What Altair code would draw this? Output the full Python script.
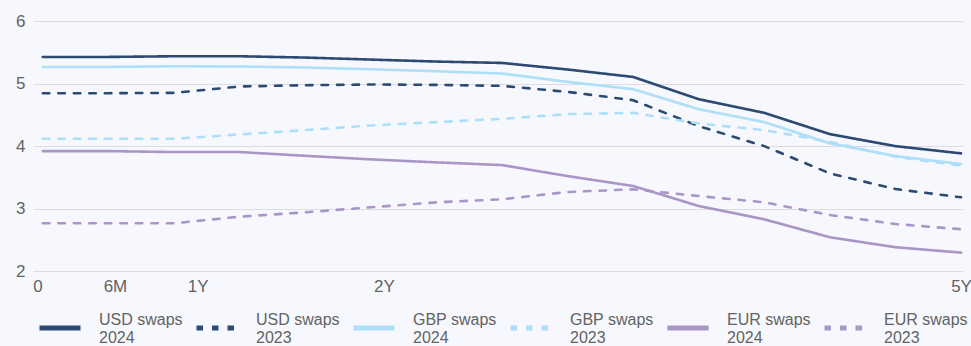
import altair as alt
import pandas as pd

# Swap curves, sampled at 15 equally spaced tenor points (0 .. 5Y)
usd_2024 = [5.425, 5.425, 5.436, 5.436, 5.415, 5.383, 5.351, 5.329, 5.224, 5.105, 4.749, 4.530, 4.190, 3.998, 3.882]
usd_2023 = [4.845, 4.845, 4.850, 4.952, 4.973, 4.984, 4.978, 4.962, 4.866, 4.733, 4.318, 3.998, 3.562, 3.311, 3.179]
gbp_2024 = [5.265, 5.265, 5.276, 5.272, 5.256, 5.228, 5.196, 5.160, 5.026, 4.909, 4.589, 4.382, 4.042, 3.839, 3.711]
gbp_2023 = [4.115, 4.115, 4.115, 4.185, 4.254, 4.329, 4.382, 4.435, 4.510, 4.530, 4.361, 4.254, 4.067, 3.827, 3.684]
eur_2024 = [3.918, 3.918, 3.903, 3.903, 3.843, 3.786, 3.738, 3.695, 3.519, 3.360, 3.040, 2.827, 2.540, 2.380, 2.294]
eur_2023 = [2.764, 2.764, 2.764, 2.869, 2.939, 3.019, 3.099, 3.147, 3.264, 3.307, 3.200, 3.099, 2.896, 2.752, 2.668]

series_names = [
    "USD swaps|2024", "USD swaps|2023",
    "GBP swaps|2024", "GBP swaps|2023",
    "EUR swaps|2024", "EUR swaps|2023",
]
series_values = [usd_2024, usd_2023, gbp_2024, gbp_2023, eur_2024, eur_2023]

tick_labels = ["0", "6M", "1Y", "2Y", "5Y"]
tick_positions = [-0.08, 1.10, 2.36, 5.20, 14]

navy = "#2D4A72"
light_blue = "#ADDFF8"
purple = "#A996C6"
colors = [navy, navy, light_blue, light_blue, purple, purple]
solid = [1, 0]
dashed = [6.5, 9]
dashes = [solid, dashed, solid, dashed, solid, dashed]

rows = []
for name, vals in zip(series_names, series_values):
    for i, v in enumerate(vals):
        rows.append({"point": i, "rate": v, "series": name})
df = pd.DataFrame(rows)

# map each tick value to its tenor label
label_expr = " : ".join(
    f"abs(datum.value - ({p})) < 0.001 ? '{t}'" for p, t in zip(tick_positions, tick_labels)
) + " : ''"

font = "Liberation Sans"
text_color = "#636363"

chart = (
    alt.Chart(df)
    .mark_line(strokeWidth=2.6, strokeCap="round", strokeJoin="round")
    .encode(
        x=alt.X(
            "point:Q",
            scale=alt.Scale(domain=[-0.15, 14.03], nice=False, zero=False),
            axis=alt.Axis(
                values=tick_positions,
                labelExpr=label_expr,
                title=None,
                grid=False,
                domain=False,
                ticks=False,
                labelFlush=False,
                labelPadding=7,
                labelFontSize=17,
                labelFont=font,
                labelColor=text_color,
                labelBound=False,
                labelOverlap=False,
            ),
        ),
        y=alt.Y(
            "rate:Q",
            scale=alt.Scale(domain=[2, 6], nice=False, zero=False),
            axis=alt.Axis(
                values=[2, 3, 4, 5, 6],
                title=None,
                domain=False,
                ticks=False,
                labelPadding=8,
                labelFontSize=17,
                labelFont=font,
                labelColor=text_color,
                gridColor="#DCDDE2",
                gridWidth=1.2,
            ),
        ),
        color=alt.Color(
            "series:N",
            scale=alt.Scale(domain=series_names, range=colors),
            sort=series_names,
            legend=alt.Legend(
                title=None,
                orient="none",
                direction="horizontal",
                legendX=4,
                legendY=284,
                columns=6,
                symbolType="stroke",
                symbolSize=1681,
                symbolStrokeWidth=5,
                labelExpr="split(datum.label, '|')",
                labelBaseline="bottom",
                labelFontSize=16,
                labelFont=font,
                labelColor=text_color,
                labelOffset=16,
                labelLimit=200,
                columnPadding=3,
            ),
        ),
        strokeDash=alt.StrokeDash(
            "series:N",
            scale=alt.Scale(domain=series_names, range=dashes),
            sort=series_names,
            legend=alt.Legend(title=None),
        ),
        detail="series:N",
    )
    .properties(
        width=930,
        height=250,
        autosize=alt.AutoSizeParams(type="none"),
        padding={"left": 33, "top": 21, "right": 8, "bottom": 75},
        background="#F6F8FD",
    )
    .configure_view(stroke=None)
    .configure_legend(symbolStrokeWidth=5)
)

chart.save("out.html", embed_options={"renderer": "svg", "actions": False})
